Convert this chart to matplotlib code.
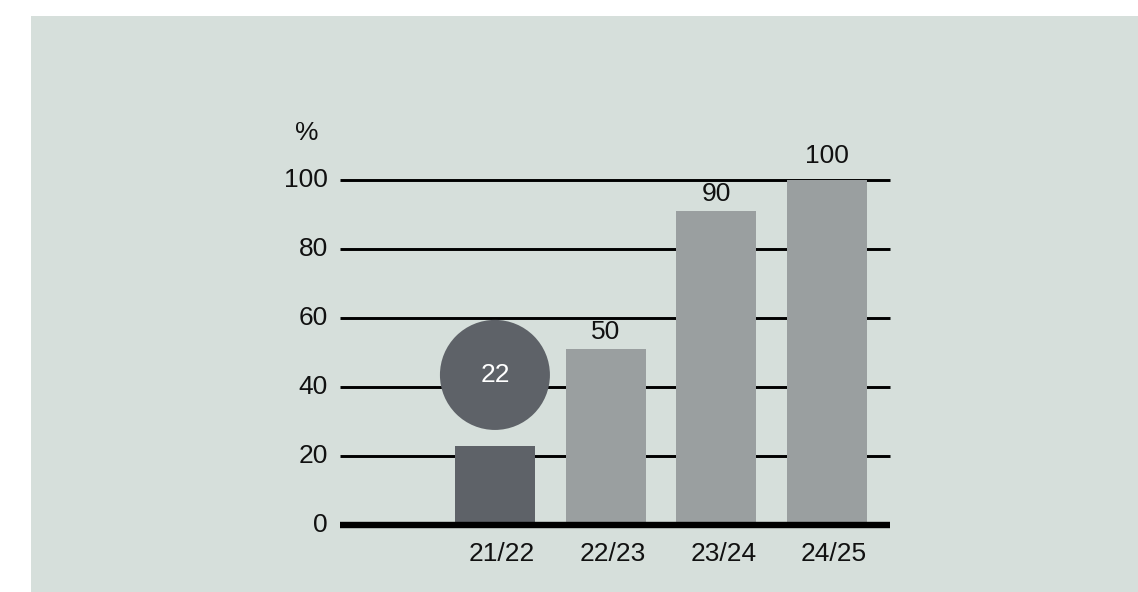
import matplotlib
matplotlib.use("Agg")
import matplotlib.pyplot as plt
from matplotlib.patches import Rectangle, Ellipse

# season shares in percent
seasons = ["21/22", "22/23", "23/24", "24/25"]
values = [22, 50, 90, 100]
bar_colors = ["#5e6268", "#9a9fa0", "#9a9fa0", "#9a9fa0"]
y_ticks = [0, 20, 40, 60, 80, 100]

# highlight bubble above the first bar
bubble_value = 22
bubble_y = 43.5

plt.rcParams["font.family"] = ["Liberation Sans", "DejaVu Sans"]

W, H = 1138, 592
fig = plt.figure(figsize=(W / 100, H / 100), dpi=100, facecolor="white")

# grey panel behind the chart
fig.patches.append(Rectangle((31 / W, 0), 1 - 31 / W, (H - 16) / H,
                             transform=fig.transFigure, facecolor="#d6dfdb",
                             edgecolor="none", zorder=-10))

ax = fig.add_axes([340 / W, (H - 525) / H, 550 / W, 345 / H])
ax.patch.set_visible(False)

x = list(range(len(seasons)))
xmin, xmax = -1.40, 3.57
ax.set_xlim(xmin, xmax)
ax.set_ylim(0, 100)

# horizontal guide lines
for t in y_ticks[1:]:
    ax.plot([xmin, xmax], [t, t], color="black", lw=2.1, zorder=1,
            solid_capstyle="butt", clip_on=False)
ax.plot([xmin, xmax], [0, 0], color="black", lw=4.6, zorder=4,
        solid_capstyle="butt", clip_on=False)

# bars stand on the upper edge of the thick base line
base = 0.9
bar_w = 0.723
ax.bar(x, values, width=bar_w, bottom=base, color=bar_colors, zorder=2)

# value labels above the light bars (lifted clear of the top guide line)
for xi, v in zip(x[1:], values[1:]):
    pad = 2.6 if v in y_ticks else 1.6
    ax.text(xi, base + v + pad, str(v), ha="center", va="bottom",
            fontsize=19, color="#111111", zorder=5, clip_on=False)

# bubble with the first value
bubble = Ellipse((x[0], bubble_y), width=0.994, height=31.9,
                 facecolor="#5e6268", edgecolor="none", zorder=3)
ax.add_patch(bubble)
ax.text(x[0], bubble_y, str(bubble_value), ha="center", va="center",
        fontsize=19, color="white", zorder=5)

# category labels
for xi, s in zip(x, seasons):
    ax.text(xi + bar_w / 2, -4.8, s, ha="right", va="top", fontsize=19,
            color="#111111")

# y tick labels
for t in y_ticks:
    ax.text(xmin - 0.11, t, str(t), ha="right", va="center", fontsize=19,
            color="#111111")
ax.text(xmin - 0.3, 113.5, "%", ha="center", va="center", fontsize=19,
        color="#111111")

ax.set_xticks([])
ax.set_yticks([])
for sp in ax.spines.values():
    sp.set_visible(False)

fig.savefig("out.png", dpi=100, facecolor="white")
